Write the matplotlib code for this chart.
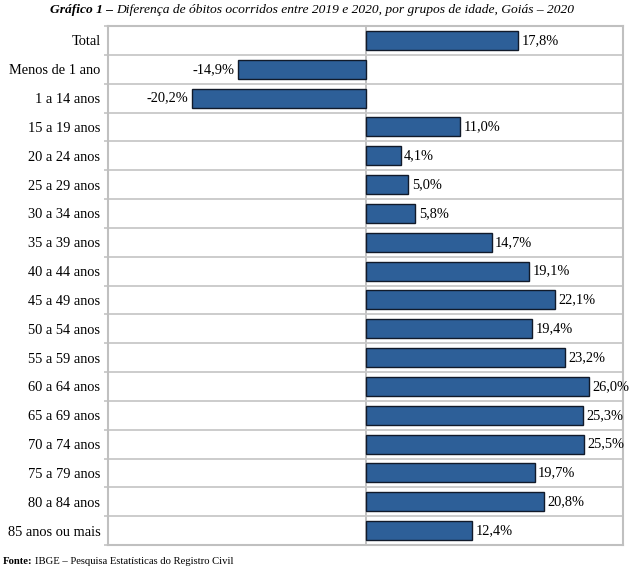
import matplotlib
matplotlib.use("Agg")
import matplotlib.pyplot as plt
import numpy as np

categories = ["Total", "Menos de 1 ano", "1 a 14 anos", "15 a 19 anos", "20 a 24 anos",
              "25 a 29 anos", "30 a 34 anos", "35 a 39 anos", "40 a 44 anos", "45 a 49 anos",
              "50 a 54 anos", "55 a 59 anos", "60 a 64 anos", "65 a 69 anos", "70 a 74 anos",
              "75 a 79 anos", "80 a 84 anos", "85 anos ou mais"]
values = [17.8, -14.9, -20.2, 11.0, 4.1, 5.0, 5.8, 14.7, 19.1, 22.1, 19.4, 23.2, 26.0,
          25.3, 25.5, 19.7, 20.8, 12.4]

plt.rcParams['font.family'] = ['Liberation Serif', 'DejaVu Serif']

fig = plt.figure(figsize=(6.31, 5.68), dpi=100)
ax = fig.add_axes([108/631, 1-545/568, (623-108)/631, (545-26)/568])

y = np.arange(len(categories))
ax.barh(y, values, height=0.66, color='#2D5F98', edgecolor='#111a2a', linewidth=1.0, zorder=3)
ax.set_xlim(-30, 30)
ax.set_ylim(len(categories)-0.5, -0.5)

for yi, v in zip(y, values):
    txt = f"{v:.1f}%".replace('.', ',')
    if v >= 0:
        ax.annotate(txt, (v, yi), xytext=(2.5, 0), textcoords='offset points',
                    ha='left', va='center', fontsize=10.4)
    else:
        ax.annotate(txt, (v, yi), xytext=(-2.5, 0), textcoords='offset points',
                    ha='right', va='center', fontsize=10.4)

ax.set_yticks(y)
ax.set_yticklabels(categories, fontsize=10.4)
ax.tick_params(axis='y', which='major', length=0, pad=5.5)
ax.set_yticks(np.arange(len(categories)+1)-0.5, minor=True)
ax.tick_params(axis='y', which='minor', length=3, color='#c8c8c8', width=1.3)
ax.grid(axis='y', which='minor', color='#c8c8c8', linewidth=1.3, zorder=0)
ax.set_xticks([])
ax.axvline(0, color='#bdbdbd', linewidth=1.3, zorder=1)
for s in ax.spines.values():
    s.set_color('#c0c0c0')
    s.set_linewidth(1.5)

t = fig.text(50/631, 1-10/568, "Gráfico 1 –", fontsize=9.7, fontweight='bold', fontstyle='italic',
             ha='left', va='center')
fig.canvas.draw()
bb = t.get_window_extent()
fig.text((bb.x1 + 3)/631, 1-10/568,
         "Diferença de óbitos ocorridos entre 2019 e 2020, por grupos de idade, Goiás – 2020",
         fontsize=9.7, fontstyle='italic', ha='left', va='center')

f1 = fig.text(3/631, 1-562/568, "Fonte:", fontsize=7.7, fontweight='bold', ha='left', va='center')
fig.canvas.draw()
bb2 = f1.get_window_extent()
fig.text((bb2.x1 + 2)/631, 1-562/568, "IBGE – Pesquisa Estatísticas do Registro Civil",
         fontsize=7.7, ha='left', va='center')

fig.savefig("out.png", dpi=100)
